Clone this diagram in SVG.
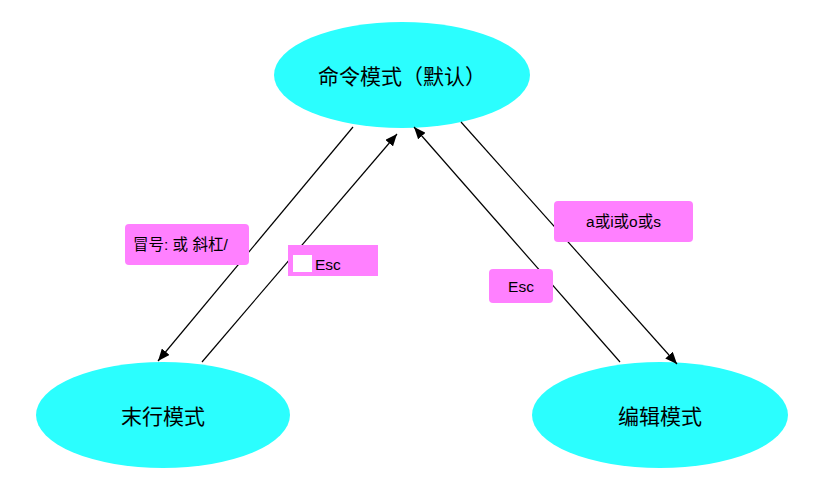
<svg xmlns="http://www.w3.org/2000/svg" width="832" height="495" viewBox="0 0 832 495">
<style>
.node{fill:#2BFEFE;stroke:none}
.ntext{font-family:"Noto Sans CJK SC","Liberation Sans",sans-serif;font-size:21px;fill:#000;text-anchor:middle;dominant-baseline:central}
.lbl{fill:#FF80FF}
.ltext{font-family:"Liberation Sans","Noto Sans CJK SC",sans-serif;font-size:15.5px;fill:#000;dominant-baseline:central}
.edge{stroke:#000;stroke-width:1.2;fill:none}
</style>
<defs>
<marker id="arr" viewBox="0 0 12 10" refX="12" refY="5" markerWidth="12" markerHeight="10" markerUnits="userSpaceOnUse" orient="auto">
<path d="M0,0 L12,5 L0,10 Z" fill="#000"/>
</marker>
</defs>
<rect width="832" height="495" fill="#fff"/>
<g id="node-command">
<ellipse class="node" cx="402" cy="75" rx="128" ry="53"/>
<text class="ntext" x="402" y="75">命令模式（默认）</text>
</g>
<g id="node-lastline">
<ellipse class="node" cx="163" cy="415" rx="127" ry="53"/>
<text class="ntext" x="163" y="415">末行模式</text>
</g>
<g id="node-edit">
<ellipse class="node" cx="660" cy="415" rx="128" ry="53"/>
<text class="ntext" x="660" y="415">编辑模式</text>
</g>
<g id="connectors">
<line class="edge" x1="353" y1="127" x2="158" y2="361" marker-end="url(#arr)"/>
<line class="edge" x1="202" y1="362" x2="397" y2="134" marker-end="url(#arr)"/>
<line class="edge" x1="620" y1="362" x2="414" y2="127" marker-end="url(#arr)"/>
<line class="edge" x1="461" y1="122" x2="677" y2="364" marker-end="url(#arr)"/>
</g>
<g id="label-colon">
<rect class="lbl" x="125" y="224" width="124" height="41" rx="4"/>
<text class="ltext" x="133" y="244.5">冒号: 或 斜杠/</text>
</g>
<g id="label-esc-left">
<rect class="lbl" x="288" y="245" width="90" height="31"/>
<rect x="293" y="255" width="19" height="17" fill="#fff"/>
<text class="ltext" x="315" y="264">Esc</text>
</g>
<g id="label-aios">
<rect class="lbl" x="554" y="201" width="139" height="41" rx="4"/>
<text class="ltext" x="623.5" y="221.5" text-anchor="middle">a或i或o或s</text>
</g>
<g id="label-esc-right">
<rect class="lbl" x="489" y="269" width="64" height="34" rx="4"/>
<text class="ltext" x="521" y="286" text-anchor="middle">Esc</text>
</g>
</svg>
